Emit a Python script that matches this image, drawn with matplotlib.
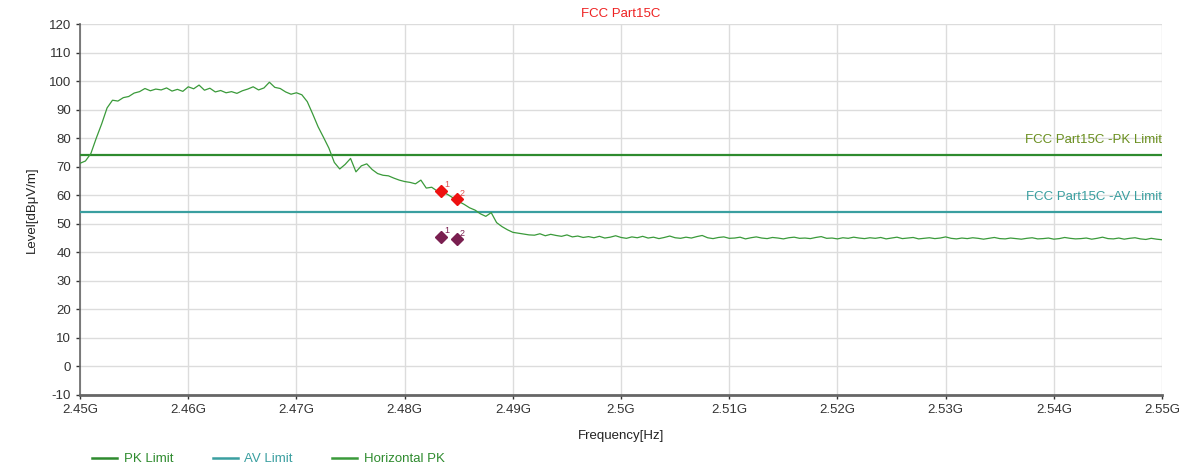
import numpy as np
import matplotlib.pyplot as plt

plt.rcParams['font.family'] = ['Liberation Sans Narrow', 'Liberation Sans', 'DejaVu Sans']
plt.rcParams['axes.unicode_minus'] = False

# sweep settings (GHz)
f_start = 2.45
f_step = 0.0005

# Horizontal PK trace, dBuV/m, every 0.5 MHz
horizontal_pk = [
    71.2, 72.0, 74.6, 80.0, 85.0, 90.6, 93.3, 93.0, 94.2, 94.6,
    95.8, 96.3, 97.4, 96.6, 97.2, 96.9, 97.6, 96.5, 97.1, 96.4,
    98.0, 97.3, 98.6, 96.8, 97.5, 96.2, 96.7, 95.9, 96.3, 95.7,
    96.6, 97.2, 98.0, 96.9, 97.6, 99.6, 97.8, 97.4, 96.2, 95.4,
    95.9, 95.2, 92.8, 88.5, 84.0, 80.3, 76.5, 71.5, 69.2, 70.8,
    72.9, 68.2, 70.3, 71.0, 69.0, 67.6, 67.0, 66.8, 66.0, 65.3,
    64.8, 64.5, 64.0, 65.3, 62.5, 62.8, 61.5, 61.2, 60.2, 59.0,
    57.8, 56.8, 55.6, 54.8, 53.5, 52.6, 53.9, 50.4, 49.0, 47.9,
    47.0, 46.7, 46.4, 46.1, 46.0, 46.5, 45.8, 46.3, 45.9, 45.6,
    46.1, 45.4, 45.7, 45.2, 45.5,
    45.1, 45.6, 45.0, 45.3, 45.8, 45.2, 44.9, 45.4, 45.1, 45.6,
    45.0, 45.3, 44.8, 45.2, 45.7, 45.1, 44.9, 45.3, 45.0, 45.5,
    45.9, 45.1, 44.8, 45.2, 45.4, 44.9, 45.0, 45.3, 44.7, 45.1,
    45.4, 45.0, 44.8, 45.2, 45.0, 44.7, 45.1, 45.3, 44.9, 45.0,
    44.8, 45.2, 45.5, 44.9, 45.0, 44.7, 45.1, 44.9, 45.3, 45.0,
    44.8, 45.1, 44.9, 45.2, 44.7, 45.0, 45.3, 44.8, 45.0, 45.2,
    44.7, 44.9, 45.1, 44.8, 45.0, 45.4, 44.9, 44.7, 45.0, 44.8,
    45.1, 44.9, 44.6, 44.9, 45.2, 44.8, 44.7, 45.0, 44.8, 44.6,
    44.9, 45.1, 44.7, 44.8, 45.0, 44.6, 44.8, 45.2, 44.9, 44.7,
    44.8, 45.0, 44.6, 44.9, 45.3, 44.8, 44.7, 45.0, 44.6, 44.9,
    45.1, 44.7, 44.5, 44.9, 44.6, 44.4,
]
freq = f_start + f_step * np.arange(len(horizontal_pk))

pk_limit = 74
av_limit = 54

# marker readings
mark_freq = [2.4834, 2.4848]
mark_pk = [61.6, 58.6]
mark_av = [45.5, 44.6]
mark_names = ['1', '2']

xticks = np.round(np.arange(2.45, 2.5501, 0.01), 2)
xlabels = ['2.45G', '2.46G', '2.47G', '2.48G', '2.49G', '2.5G',
           '2.51G', '2.52G', '2.53G', '2.54G', '2.55G']
yticks = np.arange(-10, 121, 10)

green = '#2e8b2e'
teal = '#3a9fa0'
trace_col = '#3a9a3a'

fig = plt.figure(figsize=(11.91, 4.68), dpi=100)
ax = fig.add_axes([0.0672, 0.156, 0.9085, 0.7927])

ax.axhline(pk_limit, color=green, lw=1.6, label='PK Limit', zorder=3)
ax.axhline(av_limit, color=teal, lw=1.6, label='AV Limit', zorder=3)
ax.plot(freq, horizontal_pk, color=trace_col, lw=0.9, label='Horizontal PK', zorder=4)

ax.plot(mark_freq, mark_pk, 'D', color='#ee1111', ms=6.5, zorder=5)
ax.plot(mark_freq, mark_av, 'D', color='#7a1f50', ms=6.5, zorder=5)
for f, p, a, n in zip(mark_freq, mark_pk, mark_av, mark_names):
    ax.text(f + 0.0003, p + 1.2, n, color='#e05050', fontsize=6.5)
    ax.text(f + 0.0003, a + 1.2, n, color='#7a1f50', fontsize=6.5)

ax.text(2.55, pk_limit + 3.2, 'FCC Part15C -PK Limit', color='#6a8f1f',
        ha='right', va='bottom', fontsize=9.5)
ax.text(2.55, av_limit + 3.2, 'FCC Part15C -AV Limit', color=teal,
        ha='right', va='bottom', fontsize=9.5)

ax.set_xlim(2.45, 2.55)
ax.set_ylim(-10, 120)
ax.set_xticks(xticks)
ax.set_xticklabels(xlabels)
ax.set_yticks(yticks)
ax.grid(True, color='#dcdcdc', lw=1.0)
ax.set_axisbelow(True)
ax.tick_params(labelsize=9.5, colors='#333333', length=3, width=1)

for s in ['top', 'right']:
    ax.spines[s].set_visible(False)
ax.spines['left'].set_color('#666666')
ax.spines['bottom'].set_color('#666666')
ax.spines['bottom'].set_linewidth(2)
ax.spines['left'].set_linewidth(1.2)

ax.set_title('FCC Part15C', color='#ee2222', fontsize=9.5, pad=5)
ax.set_xlabel('Frequency[Hz]', fontsize=9.5, color='#222222', labelpad=10)
ax.set_ylabel('Level[dBμV/m]', fontsize=9.5, color='#222222', labelpad=8)

leg = ax.legend(loc='upper left', bbox_to_anchor=(0.0, -0.125), ncol=3, frameon=False,
                fontsize=9.5, handlelength=1.9, columnspacing=3.0, handletextpad=0.5)
for t, c in zip(leg.get_texts(), [green, teal, green]):
    t.set_color(c)
for h in leg.legend_handles:
    h.set_linewidth(1.8)

plt.savefig('out.png', dpi=100)
